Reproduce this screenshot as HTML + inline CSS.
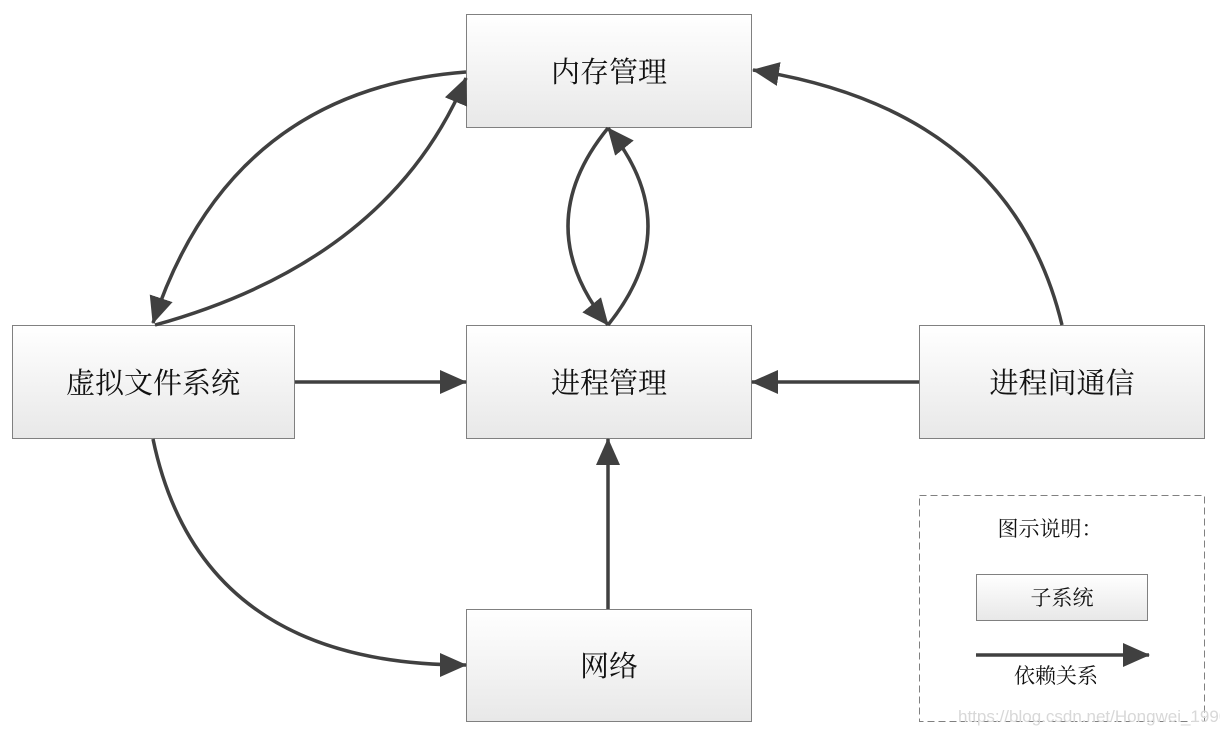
<!DOCTYPE html>
<html><head><meta charset="utf-8"><style>
body{margin:0;background:#fff;}
svg text{font-family:"Liberation Serif","Noto Serif CJK SC",serif;fill:#111;}
</style></head><body>
<svg width="1220" height="736" viewBox="0 0 1220 736" xmlns="http://www.w3.org/2000/svg">
<defs>
<linearGradient id="g" x1="0" y1="0" x2="0" y2="1">
<stop offset="0" stop-color="#ffffff"/><stop offset="1" stop-color="#e8e8e8"/>
</linearGradient>
<marker id="a" markerUnits="userSpaceOnUse" markerWidth="30" markerHeight="26" refX="26" refY="12" orient="auto">
<path d="M0,0 L27,12 L0,24 Z" fill="#404040"/>
</marker>
</defs>
<g stroke="#808080" stroke-width="1" fill="url(#g)">
<rect x="466.5" y="14.5" width="285" height="113"/>
<rect x="466.5" y="325.5" width="285" height="113"/>
<rect x="12.5" y="325.5" width="282" height="113"/>
<rect x="919.5" y="325.5" width="285" height="113"/>
<rect x="466.5" y="609.5" width="285" height="112"/>
<rect x="976.5" y="574.5" width="171" height="46"/>
</g>
<rect x="919.5" y="495.5" width="285" height="226" fill="none" stroke="#808080" stroke-dasharray="7,4"/>
<g stroke="#404040" stroke-width="3.5" fill="none" marker-end="url(#a)">
<path d="M466,72 Q230,90 153,323"/>
<path d="M155,325 Q390,260 466,78"/>
<path d="M608,128 Q528,226 608,325"/>
<path d="M608,325 Q688,226 608,128"/>
<path d="M1062,325 Q1010,110 753,70"/>
<path d="M295,382 L466,382"/>
<path d="M919,382 L752,382"/>
<path d="M608,609 L608,439"/>
<path d="M153,439 Q200,665 466,665"/>
<path d="M976,655 L1149,655"/>
</g>
<g font-size="29" text-anchor="middle">
<text x="609" y="82">内存管理</text>
<text x="609" y="393">进程管理</text>
<text x="153" y="393">虚拟文件系统</text>
<text x="1062" y="393">进程间通信</text>
<text x="609" y="676">网络</text>
</g>
<g font-size="21" text-anchor="middle">
<text x="1050" y="536">图示说明：</text>
<text x="1062" y="605">子系统</text>
<text x="1056" y="683">依赖关系</text>
</g>
<text x="958" y="722" font-size="17" fill="#d8d8d8" style="fill:#d8d8d8;font-family:'Liberation Sans',sans-serif">https://blog.csdn.net/Hongwei_1990</text>
</svg>
</body></html>
